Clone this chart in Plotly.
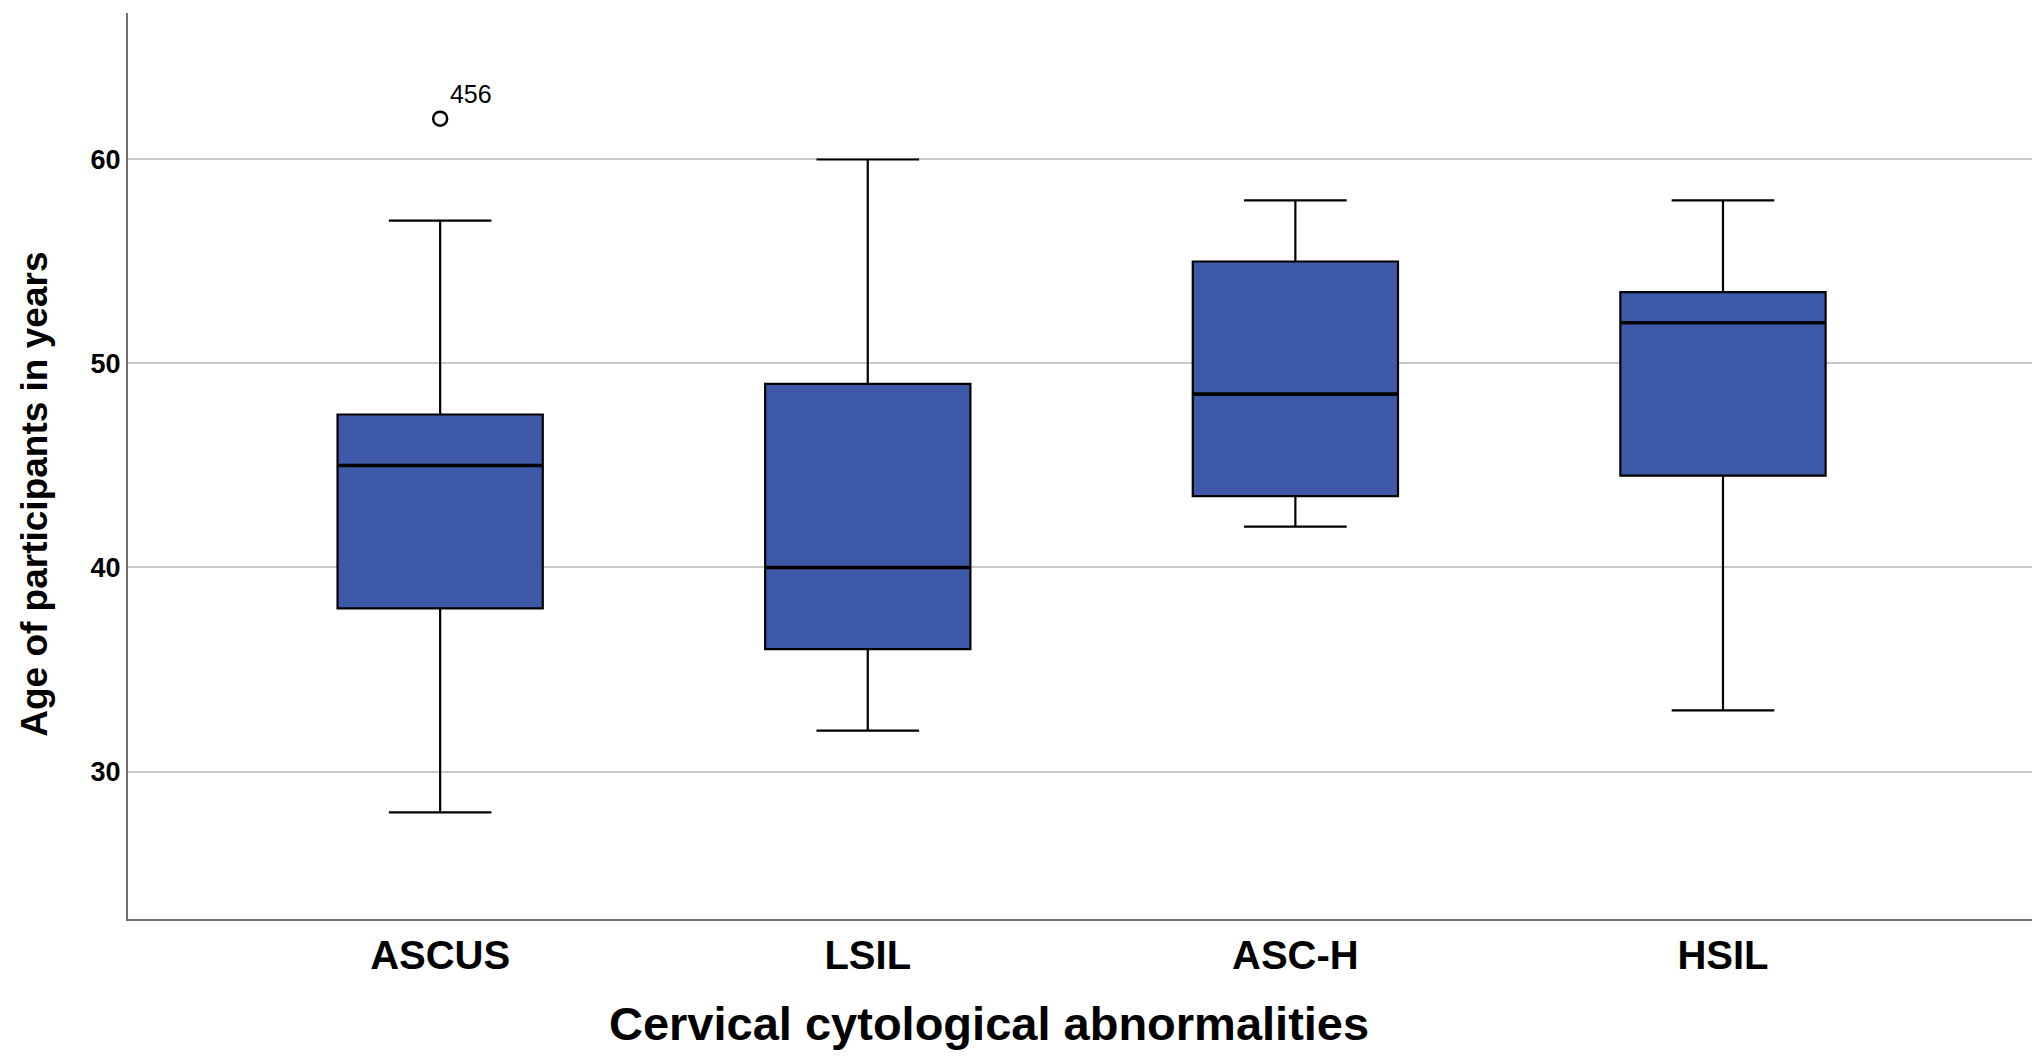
import plotly.graph_objects as go

categories = ["ASCUS", "LSIL", "ASC-H", "HSIL"]
lower_whisker = [28, 32, 42, 33]
q1_vals = [38, 36, 43.5, 44.5]
median_vals = [45, 40, 48.5, 52]
q3_vals = [47.5, 49, 55, 53.5]
upper_whisker = [57, 60, 58, 58]

outlier_cat = ["ASCUS"]
outlier_age = [62]
outlier_label = ["456"]

y_ticks = [30, 40, 50, 60]

FONT = "Liberation Sans, Arial, sans-serif"

fig = go.Figure()
fig.add_trace(go.Box(
    x=categories,
    lowerfence=lower_whisker,
    q1=q1_vals,
    median=median_vals,
    q3=q3_vals,
    upperfence=upper_whisker,
    fillcolor="rgb(62,89,168)",
    line=dict(color="black", width=2.2),
    whiskerwidth=0.5,
    width=0.48,
    boxpoints=False,
    showlegend=False,
    hoverinfo="skip",
))
# thicker median lines (line-ew symbol spans 1.4 x marker size)
fig.add_trace(go.Scatter(
    x=categories,
    y=median_vals,
    mode="markers",
    marker=dict(symbol="line-ew", size=145, color="black", line=dict(width=3.6, color="black")),
    showlegend=False,
    hoverinfo="skip",
))
fig.add_trace(go.Scatter(
    x=outlier_cat,
    y=outlier_age,
    mode="markers+text",
    marker=dict(symbol="circle-open", size=14, color="black", line=dict(width=2.5, color="black")),
    text=outlier_label,
    textposition="top right",
    textfont=dict(family=FONT, size=25, color="black"),
    showlegend=False,
    hoverinfo="skip",
))

fig.update_layout(
    width=2040,
    height=1057,
    margin=dict(l=120, r=15, t=5, b=146),
    paper_bgcolor="white",
    plot_bgcolor="white",
    font=dict(family=FONT, color="black"),
    xaxis=dict(
        type="category",
        range=[-0.73, 3.725],
        showline=True,
        linecolor="#707070",
        linewidth=2,
        showgrid=False,
        zeroline=False,
        ticks="",
        tickfont=dict(family=FONT, size=40, color="black", weight="bold"),
    ),
    yaxis=dict(
        range=[22.77, 67.18],
        tickvals=y_ticks,
        showline=True,
        linecolor="#707070",
        linewidth=2,
        showgrid=True,
        gridcolor="#c8c8c8",
        gridwidth=2,
        zeroline=False,
        ticks="",
        tickfont=dict(family=FONT, size=27, color="black", weight="bold"),
    ),
    annotations=[
        dict(
            text="<b>Cervical cytological abnormalities</b>",
            xref="paper", yref="paper",
            x=0.452, y=-0.1148,
            xanchor="center", yanchor="middle",
            showarrow=False,
            font=dict(family=FONT, size=47, color="black"),
        ),
        dict(
            text="<b>Age of participants in years</b>",
            xref="paper", yref="paper",
            x=-0.0495, y=0.469,
            xanchor="center", yanchor="middle",
            textangle=-90,
            showarrow=False,
            font=dict(family=FONT, size=37, color="black"),
        ),
    ],
)

fig.write_html("out.html")
